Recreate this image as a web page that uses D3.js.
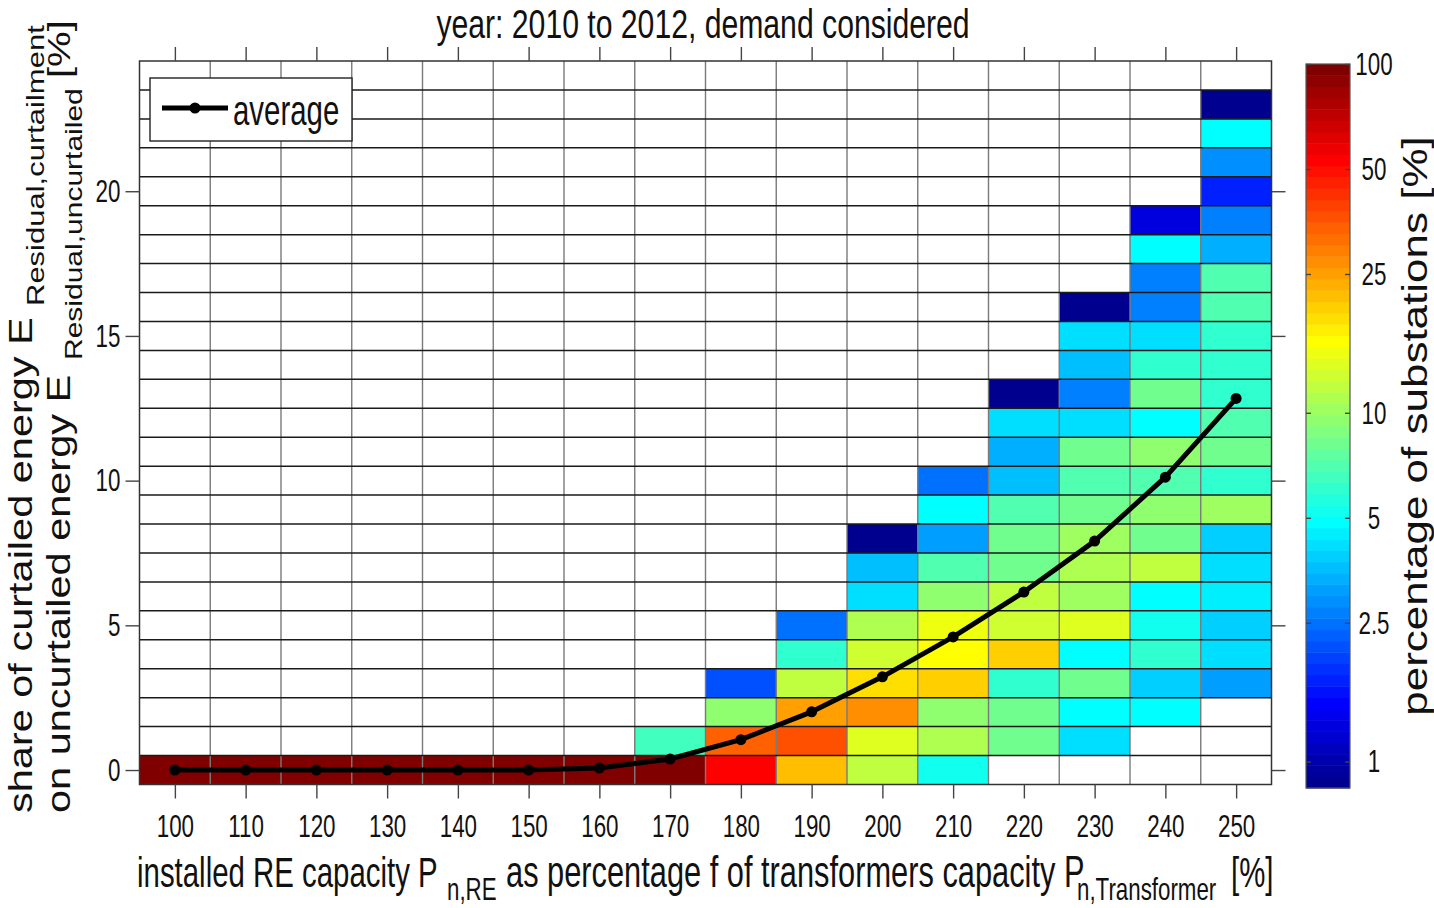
<!DOCTYPE html>
<html lang="en">
<head>
    <meta charset="UTF-8">
    <title>Share of curtailed energy vs installed RE capacity</title>
    <script src="https://cdn.jsdelivr.net/npm/d3@7"></script>
    <style>
        body {
            margin: 0;
            background: #fff;
        }
        svg {
            display: block;
            font-family: "Liberation Sans", Arial, Helvetica, sans-serif;
        }
        .grid-h {
            stroke: #1a1a1a;
            stroke-width: 1.5;
        }
        .grid-v {
            stroke: #7a7a7a;
            stroke-width: 1.4;
        }
        .axis path {
            display: none;
        }
        .axis line {
            stroke: #444;
            stroke-width: 1.4;
        }
        .axis text {
            font-size: 32px;
            fill: #111;
        }
    </style>
</head>
<body>
    <svg id="chart" width="1434" height="908"></svg>

    <script>
        // installed RE capacity classes [%] (x categories)
        const capacities = [100, 110, 120, 130, 140, 150, 160, 170, 180, 190, 200, 210, 220, 230, 240, 250];

        // percentage of substations per curtailment row (index = share of curtailed energy [%])
        const share100 = [100];
        const share110 = [100];
        const share120 = [100];
        const share130 = [100];
        const share140 = [100];
        const share150 = [100];
        const share160 = [100];
        const share170 = [93.3, 6.7];
        const share180 = [53, 34, 9.2, 2.2];
        const share190 = [21.6, 36, 25, 11.5, 6.3, 2.4];
        const share200 = [11.5, 13.4, 28, 18.1, 12.4, 10.7, 4.05, 3.5, 0.84];
        const share210 = [5.4, 10.7, 9.2, 20, 15.5, 14.5, 9.2, 7.3, 3.0, 5.0, 2.4];
        const share220 = [null, 8.5, 8.5, 5.86, 20, 12.8, 11.5, 8.5, 8.5, 6.8, 3.61, 3.37, 4.2, 0.84];
        const share230 = [null, 4.05, 4.7, 8.5, 4.7, 13.4, 9.9, 10.7, 9.9, 7.9, 6.8, 7.9, 4.2, 2.59, 3.49, 4.05, 0.84];
        const share240 = [null, null, 4.7, 3.9, 5.86, 5.2, 4.7, 11.5, 8.5, 9.2, 6.8, 9.2, 4.7, 7.9, 6.3, 4.05, 2.59, 2.59, 4.7, 1.27];
        const share250 = [null, null, null, 3.0, 4.2, 3.9, 4.54, 4.2, 3.9, 9.9, 5.86, 8.5, 6.8, 6.3, 6.3, 6.3, 6.8, 6.8, 3.37, 2.59, 1.71, 2.89, 4.7, 0.84];

        const shares = [share100, share110, share120, share130, share140, share150, share160, share170,
                        share180, share190, share200, share210, share220, share230, share240, share250];

        // average share of curtailed energy per capacity class [%]
        const average = [0, 0, 0, 0, 0, 0, 0.07, 0.38, 1.05, 2.01, 3.22, 4.6, 6.15, 7.91, 10.12, 12.84];

        // tick values
        const yTicks = [0, 5, 10, 15, 20];
        const colorTicks = [1, 2.5, 5, 10, 25, 50, 100];
        const colorMin = 0.84;   // one substation
        const colorMax = 100;

        const svg = d3.select("#chart");
        const sx = 0.7;   // horizontal text in the original figure is condensed
        const rsx = 0.8;  // rotated text, squeezed across its height

        // plot area
        const plotLeft = 139.5, plotRight = 1271.5, plotTop = 61, plotBottom = 784.5;

        const xScale = d3.scaleLinear().domain([95, 255]).range([plotLeft, plotRight]);
        const yScale = d3.scaleLinear().domain([-0.5, 24.5]).range([plotBottom, plotTop]);

        // MATLAB jet(64)
        const clamp = v => Math.max(0, Math.min(1, v));
        const jet64 = d3.range(1, 65).map(i => d3.rgb(
            255 * clamp(Math.min((i - 24) / 16, (72 - i) / 16)),
            255 * clamp(Math.min((i - 8) / 16, (56 - i) / 16)),
            255 * clamp(Math.min((i + 8) / 16, (40 - i) / 16))
        ).formatHex());

        const color = d3.scaleQuantize()
            .domain([Math.log10(colorMin), Math.log10(colorMax)])
            .range(jet64);

        // flatten cells
        const cells = [];
        capacities.forEach((c, i) => {
            shares[i].forEach((v, r) => {
                if (v != null) cells.push({ cap: c, row: r, value: v });
            });
        });

        // heatmap cells
        svg.append("g")
            .selectAll("rect")
            .data(cells)
            .enter()
            .append("rect")
            .attr("x", d => xScale(d.cap - 5))
            .attr("y", d => yScale(d.row + 0.5))
            .attr("width", d => xScale(d.cap + 5) - xScale(d.cap - 5))
            .attr("height", d => yScale(d.row - 0.5) - yScale(d.row + 0.5))
            .attr("fill", d => color(Math.log10(d.value)));

        // cell edges
        svg.append("g")
            .selectAll("line")
            .data(d3.range(105, 250, 10))
            .enter()
            .append("line")
            .attr("class", "grid-v")
            .attr("x1", d => xScale(d)).attr("x2", d => xScale(d))
            .attr("y1", plotTop).attr("y2", plotBottom);

        svg.append("g")
            .selectAll("line")
            .data(d3.range(0.5, 24, 1))
            .enter()
            .append("line")
            .attr("class", "grid-h")
            .attr("x1", plotLeft).attr("x2", plotRight)
            .attr("y1", d => yScale(d)).attr("y2", d => yScale(d));

        // plot box
        svg.append("rect")
            .attr("x", plotLeft).attr("y", plotTop)
            .attr("width", plotRight - plotLeft).attr("height", plotBottom - plotTop)
            .attr("fill", "none")
            .attr("stroke", "#333")
            .attr("stroke-width", 1.5);

        // axes (ticks outward)
        const xBottom = svg.append("g")
            .attr("class", "axis")
            .attr("transform", `translate(0, ${plotBottom})`)
            .call(d3.axisBottom(xScale).tickValues(capacities).tickSize(14).tickSizeOuter(0).tickPadding(16));
        xBottom.selectAll("text").attr("transform", `scale(${sx},1)`);

        svg.append("g")
            .attr("class", "axis")
            .attr("transform", `translate(0, ${plotTop})`)
            .call(d3.axisTop(xScale).tickValues(capacities).tickSize(14).tickSizeOuter(0).tickFormat(""));

        const yLeft = svg.append("g")
            .attr("class", "axis")
            .attr("transform", `translate(${plotLeft}, 0)`)
            .call(d3.axisLeft(yScale).tickValues(yTicks).tickSize(14).tickSizeOuter(0).tickPadding(5));
        yLeft.selectAll("text")
            .attr("x", -19 / sx)
            .attr("transform", `scale(${sx},1)`);

        svg.append("g")
            .attr("class", "axis")
            .attr("transform", `translate(${plotRight}, 0)`)
            .call(d3.axisRight(yScale).tickValues(yTicks).tickSize(14).tickSizeOuter(0).tickFormat(""));

        // average line
        const line = d3.line()
            .x((d, i) => xScale(capacities[i]))
            .y(d => yScale(d));

        svg.append("path")
            .datum(average)
            .attr("d", line)
            .attr("fill", "none")
            .attr("stroke", "#000")
            .attr("stroke-width", 5)
            .attr("stroke-linejoin", "round");

        svg.append("g")
            .selectAll("circle")
            .data(average)
            .enter()
            .append("circle")
            .attr("cx", (d, i) => xScale(capacities[i]))
            .attr("cy", d => yScale(d))
            .attr("r", 5.5)
            .attr("fill", "#000");

        // condensed horizontal text helper
        function label(str, x, y, size, anchor, scale) {
            return svg.append("text")
                .attr("transform", `translate(${x}, ${y}) scale(${scale || sx},1)`)
                .attr("font-size", size)
                .attr("text-anchor", anchor || "start")
                .attr("fill", "#111")
                .text(str);
        }

        // legend
        svg.append("rect")
            .attr("x", 150).attr("y", 78)
            .attr("width", 202).attr("height", 63)
            .attr("fill", "#fff")
            .attr("stroke", "#222")
            .attr("stroke-width", 1.4);
        svg.append("line")
            .attr("x1", 162).attr("x2", 228)
            .attr("y1", 108).attr("y2", 108)
            .attr("stroke", "#000")
            .attr("stroke-width", 5);
        svg.append("circle")
            .attr("cx", 195).attr("cy", 108).attr("r", 5.5)
            .attr("fill", "#000");
        label("average", 233, 125, 42);

        // title
        label("year: 2010 to 2012, demand considered", 703, 37.5, 41.5, "middle", 0.727);

        // x label with subscripts
        label("installed RE capacity P", 137, 887, 42);
        label("n,RE", 447, 900, 31, "start", 0.72);
        label("as percentage f of transformers capacity P", 506, 887, 44);
        label("n,Transformer", 1077, 900, 31, "start", 0.72);
        label("[%]", 1231, 887, 42);

        // rotated labels: text frame x' = -screenY, y' = screenX / rsx
        const rot = svg.append("g").attr("transform", `scale(${rsx},1) rotate(-90)`);
        function rlabel(str, sy, sxPos, size, anchor) {
            return rot.append("text")
                .attr("x", -sy)
                .attr("y", sxPos / rsx)
                .attr("font-size", size)
                .attr("text-anchor", anchor || "start")
                .attr("fill", "#111")
                .text(str);
        }
        rlabel("share of curtailed energy E", 813, 32, 41.5);
        rlabel("Residual,curtailment", 306, 44, 31);
        rlabel("on uncurtailed energy E", 813, 70, 41.5);
        rlabel("Residual,uncurtailed", 360, 82, 30);
        rlabel("[%]", 78, 70, 40);

        // colorbar
        const cbLeft = 1306, cbRight = 1350;
        const cbScale = d3.scaleLog().domain([colorMin, colorMax]).range([788, 64]);
        const lMin = Math.log10(colorMin), lMax = Math.log10(colorMax);
        const bands = d3.range(64).map(k => ({
            lo: Math.pow(10, lMin + k * (lMax - lMin) / 64),
            hi: Math.pow(10, lMin + (k + 1) * (lMax - lMin) / 64),
            fill: jet64[k]
        }));

        svg.append("g")
            .selectAll("rect")
            .data(bands)
            .enter()
            .append("rect")
            .attr("x", cbLeft)
            .attr("y", d => cbScale(d.hi))
            .attr("width", cbRight - cbLeft)
            .attr("height", d => cbScale(d.lo) - cbScale(d.hi) + 0.5)
            .attr("fill", d => d.fill);

        svg.append("rect")
            .attr("x", cbLeft).attr("y", 64)
            .attr("width", cbRight - cbLeft).attr("height", 788 - 64)
            .attr("fill", "none")
            .attr("stroke", "#555")
            .attr("stroke-width", 1.2);

        const cbAxis = svg.append("g")
            .attr("class", "axis")
            .attr("transform", `translate(${cbLeft}, 0)`)
            .call(d3.axisRight(cbScale).tickValues(colorTicks).tickSize(5).tickSizeOuter(0).tickFormat(d3.format("~g")));
        cbAxis.selectAll("text")
            .attr("x", (1374 - cbLeft) / sx)
            .attr("text-anchor", "middle")
            .attr("font-size", 31)
            .attr("transform", `scale(${sx},1)`);

        svg.append("g")
            .attr("class", "axis")
            .attr("transform", `translate(${cbRight}, 0)`)
            .call(d3.axisLeft(cbScale).tickValues(colorTicks).tickSize(5).tickSizeOuter(0).tickFormat(""));

        rlabel("percentage of substations [%]", 426, 1427, 44, "middle");
    </script>
</body>
</html>
